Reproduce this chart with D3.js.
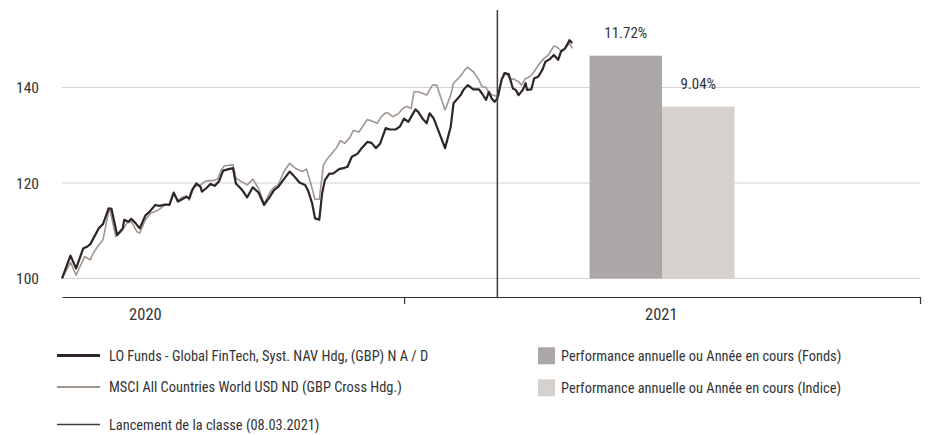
<!DOCTYPE html>
<html>
<head>
<meta charset="utf-8">
<script src="https://cdn.jsdelivr.net/npm/d3@7"></script>
<style>
  html, body { margin: 0; padding: 0; background: #fff; }
  svg { display: block; }
  text { font-family: "Liberation Sans Narrow", "Arial Narrow", "Roboto Condensed", "Liberation Sans", sans-serif; fill: #333; }
</style>
</head>
<body>
<svg id="chart" width="928" height="435"></svg>
<script>
// ---------------- DATA ----------------
const fundName = "LO Funds - Global FinTech, Syst. NAV Hdg, (GBP) N A / D";
const indexName = "MSCI All Countries World USD ND (GBP Cross Hdg.)";
const launchName = "Lancement de la classe (08.03.2021)";
const launchDate = "2021-03-08";

const fundDates = [
"2020-05-04","2020-05-10","2020-05-14","2020-05-19","2020-05-22","2020-05-24","2020-05-30",
"2020-06-02","2020-06-06","2020-06-08","2020-06-12","2020-06-16","2020-06-17","2020-06-20","2020-06-22","2020-06-25","2020-06-28",
"2020-07-02","2020-07-05","2020-07-09","2020-07-12","2020-07-16","2020-07-19","2020-07-22","2020-07-25","2020-07-28","2020-07-31",
"2020-08-02","2020-08-04","2020-08-07","2020-08-10","2020-08-11","2020-08-14","2020-08-17","2020-08-20","2020-08-23","2020-08-26","2020-08-30",
"2020-09-02","2020-09-04","2020-09-08","2020-09-12","2020-09-16","2020-09-20","2020-09-24","2020-09-28",
"2020-10-01","2020-10-04","2020-10-08","2020-10-12","2020-10-15","2020-10-19","2020-10-23","2020-10-25","2020-10-28","2020-10-30",
"2020-11-02","2020-11-04","2020-11-06","2020-11-09","2020-11-12","2020-11-16","2020-11-19","2020-11-22","2020-11-25","2020-11-29",
"2020-12-02","2020-12-06","2020-12-09","2020-12-12","2020-12-15","2020-12-19","2020-12-22","2020-12-26","2020-12-29",
"2021-01-01","2021-01-04","2021-01-09","2021-01-11","2021-01-14","2021-01-17","2021-01-19","2021-01-22","2021-01-26","2021-01-30",
"2021-02-03","2021-02-05","2021-02-10","2021-02-12","2021-02-15","2021-02-19","2021-02-23","2021-02-25","2021-02-28",
"2021-03-02","2021-03-04","2021-03-06","2021-03-08","2021-03-11","2021-03-13","2021-03-16","2021-03-19","2021-03-21","2021-03-23","2021-03-26","2021-03-28","2021-03-29",
"2021-04-01","2021-04-03","2021-04-06","2021-04-09","2021-04-11","2021-04-14","2021-04-17","2021-04-20","2021-04-22","2021-04-25","2021-04-28","2021-04-30"
];
const fundValues = [
100,104.8,102.1,106.3,106.7,107.2,110.5,
111.4,114.7,114.6,109.1,110.5,112.3,111.9,112.5,111.6,110.5,
113.2,114.0,115.4,115.2,115.5,115.4,118.0,116.1,116.6,117.1,
116.8,118.5,119.9,119.2,118.2,118.9,119.8,119.4,120.3,122.6,122.9,
123.1,119.9,118.7,117.0,119.1,118.0,115.4,117.1,
118.5,119.2,120.8,122.4,121.5,120.1,119.6,118.5,115.7,112.6,
112.3,117.8,120.6,121.9,122.0,122.9,123.1,123.4,125.5,126.1,
127.3,128.6,128.4,127.3,128.2,131.5,131.2,131.2,131.8,
133.5,132.8,135.4,134.9,133.5,132.5,134.6,133.5,130.4,127.3,
131.8,136.7,138.4,139.5,140.5,139.6,139.6,138.8,137.4,
139.1,137.7,137.0,137.7,141.6,143.0,142.8,139.8,139.5,138.4,139.5,140.9,139.5,
139.6,141.9,142.3,143.8,145.4,145.9,146.8,145.8,147.5,148.2,149.9,149.3
];

const indexDates = [
"2020-05-04","2020-05-10","2020-05-14","2020-05-20","2020-05-24","2020-05-26","2020-05-30",
"2020-06-02","2020-06-06","2020-06-07","2020-06-11","2020-06-15","2020-06-19","2020-06-22","2020-06-26","2020-06-28",
"2020-07-02","2020-07-06","2020-07-11","2020-07-16","2020-07-19","2020-07-22","2020-07-25","2020-07-28","2020-07-31",
"2020-08-02","2020-08-05","2020-08-07","2020-08-10","2020-08-13","2020-08-16","2020-08-19","2020-08-22","2020-08-25","2020-08-27",
"2020-09-02","2020-09-04","2020-09-08","2020-09-12","2020-09-16","2020-09-20","2020-09-24","2020-09-28",
"2020-10-01","2020-10-04","2020-10-08","2020-10-12","2020-10-16","2020-10-21","2020-10-24","2020-10-27","2020-10-30",
"2020-11-02","2020-11-05","2020-11-08","2020-11-12","2020-11-14","2020-11-17","2020-11-20","2020-11-24","2020-11-26","2020-11-30",
"2020-12-02","2020-12-06","2020-12-09","2020-12-13","2020-12-16","2020-12-19","2020-12-21","2020-12-24","2020-12-28","2020-12-31",
"2021-01-03","2021-01-06","2021-01-08","2021-01-11","2021-01-14","2021-01-17","2021-01-21","2021-01-24","2021-01-26","2021-01-30",
"2021-02-03","2021-02-05","2021-02-10","2021-02-13","2021-02-15","2021-02-19","2021-02-23","2021-02-25","2021-02-28",
"2021-03-02","2021-03-05","2021-03-07","2021-03-09","2021-03-11","2021-03-14","2021-03-17","2021-03-20","2021-03-23","2021-03-25","2021-03-28","2021-03-31",
"2021-04-03","2021-04-06","2021-04-10","2021-04-13","2021-04-17","2021-04-19","2021-04-22","2021-04-25","2021-04-28","2021-04-30"
];
const indexValues = [
100,103.4,100.7,104.6,103.9,105.3,107.0,
108.1,114.0,114.3,108.8,109.8,111.6,111.9,109.8,109.5,
112.3,113.7,114.3,115.4,115.6,117.8,116.4,117.0,117.3,
116.4,118.9,119.4,119.6,120.3,120.5,120.5,120.8,122.9,123.6,
123.8,121.0,120.3,119.6,120.8,118.9,115.7,118.0,
119.1,119.6,122.4,124.1,123.1,122.4,122.9,119.9,116.6,
116.6,123.8,125.2,126.6,127.3,128.9,128.3,129.7,131.0,130.7,
131.5,133.3,133.0,132.5,133.9,134.7,134.6,133.9,134.5,135.6,
136.0,135.6,139.1,139.1,138.8,138.4,140.5,140.5,138.8,135.3,
138.4,140.9,142.4,143.7,144.2,143.3,141.6,140.2,140.0,
138.8,138.4,138.2,138.4,141.6,143.0,141.9,141.7,141.2,140.5,141.9,142.3,
143.3,144.7,146.1,146.8,148.7,148.5,147.7,148.2,149.3,148.2
];

const barYear = "2021";
const barSeries = ["Performance annuelle ou Année en cours (Fonds)", "Performance annuelle ou Année en cours (Indice)"];
const barValues = [11.72, 9.04];

const yTicks = [100, 120, 140];
const yearLabels = ["2020", "2021"];
const xTickDates = ["2021-01-01", "2022-01-01"];

// ---------------- STYLE ----------------
const colFund = "#2e2626";
const colIndex = "#a0968f";
const colLaunch = "#3c3c3c";
const colBarFund = "#aca7a6";
const colBarIndex = "#d6d1cd";
const colGrid = "#d2d2d2";
const colAxis = "#333";

const parse = d3.utcParse("%Y-%m-%d");
const svg = d3.select("#chart");

const left = 62, right = 920, axisY = 297, topY = 10;
const x = d3.scaleUtc().domain([parse("2020-05-04"), parse("2022-01-01")]).range([left, right]);
const y = d3.scaleLinear().domain([100, 140]).range([278.5, 87.5]);
const yBar = d3.scaleLinear().domain([0, 14.65]).range([y(100), 0]);

// gridlines
svg.append("g").selectAll("line").data(yTicks).join("line")
  .attr("x1", left).attr("x2", right)
  .attr("y1", d => y(d)).attr("y2", d => y(d))
  .attr("stroke", colGrid).attr("stroke-width", 1.2);

// y labels
svg.append("g").selectAll("text").data(yTicks).join("text")
  .attr("x", 39).attr("y", d => y(d) + 5.5)
  .attr("text-anchor", "end").attr("font-size", 15.5)
  .text(d => d);

// bars
const yearStart = parse(barYear + "-01-01"), yearEnd = parse((+barYear + 1) + "-01-01");
const groupCenter = (x(yearStart) + x(yearEnd)) / 2;
const groupW = 145;
const band = d3.scaleBand().domain(barSeries).range([groupCenter - groupW / 2, groupCenter + groupW / 2]).padding(0);
const barColors = [colBarFund, colBarIndex];
svg.append("g").selectAll("rect").data(barValues).join("rect")
  .attr("x", (d, i) => band(barSeries[i]))
  .attr("width", band.bandwidth())
  .attr("y", d => yBar(d))
  .attr("height", d => yBar(0) - yBar(d))
  .attr("fill", (d, i) => barColors[i]);
svg.append("g").selectAll("text").data(barValues).join("text")
  .attr("x", (d, i) => band(barSeries[i]) + band.bandwidth() / 2)
  .attr("y", d => yBar(d) - 18)
  .attr("text-anchor", "middle").attr("font-size", 15)
  .text(d => d.toFixed(2) + "%");

// lines
const lineGen = d3.line().x(d => x(d[0])).y(d => y(d[1]));
const idxData = indexDates.map((d, i) => [parse(d), indexValues[i]]);
const fundData = fundDates.map((d, i) => [parse(d), fundValues[i]]);
svg.append("path").datum(idxData).attr("d", lineGen)
  .attr("fill", "none").attr("stroke", colIndex).attr("stroke-width", 1.6).attr("stroke-linejoin", "round");
svg.append("path").datum(fundData).attr("d", lineGen)
  .attr("fill", "none").attr("stroke", colFund).attr("stroke-width", 2.2).attr("stroke-linejoin", "round");

// launch line
const lx = x(parse(launchDate));
svg.append("line").attr("x1", lx).attr("x2", lx).attr("y1", topY).attr("y2", axisY)
  .attr("stroke", colLaunch).attr("stroke-width", 1.5);

// x axis
const xAxis = d3.axisBottom(x).tickValues(xTickDates.map(parse)).tickSize(7).tickSizeOuter(0).tickFormat("");
const gx = svg.append("g").attr("transform", `translate(0,${axisY})`).call(xAxis);
gx.select(".domain").attr("stroke", colAxis).attr("stroke-width", 1.2);
gx.selectAll(".tick line").attr("stroke", colAxis).attr("stroke-width", 1.2);

svg.append("g").selectAll("text").data(yearLabels).join("text")
  .attr("x", d => x(parse(d + "-07-02")))
  .attr("y", 320)
  .attr("text-anchor", "middle").attr("font-size", 16.5)
  .text(d => d);

// legend
const legFont = 14.4;
const legLines = [
  { name: fundName, color: colFund, w: 3, y: 355.5 },
  { name: indexName, color: colIndex, w: 2, y: 387 },
  { name: launchName, color: colLaunch, w: 1.5, y: 424.5 }
];
const lg = svg.append("g");
legLines.forEach(l => {
  lg.append("line").attr("x1", 57).attr("x2", 100).attr("y1", l.y).attr("y2", l.y)
    .attr("stroke", l.color).attr("stroke-width", l.w);
  lg.append("text").attr("x", 109).attr("y", l.y + 5).attr("font-size", legFont).text(l.name);
});
const legBars = [
  { name: barSeries[0], color: colBarFund, y: 347.3 },
  { name: barSeries[1], color: colBarIndex, y: 379.3 }
];
legBars.forEach(l => {
  lg.append("rect").attr("x", 538).attr("y", l.y).attr("width", 17).attr("height", 17).attr("fill", l.color);
  lg.append("text").attr("x", 561).attr("y", l.y + 13.5).attr("font-size", legFont).text(l.name);
});
</script>
</body>
</html>
